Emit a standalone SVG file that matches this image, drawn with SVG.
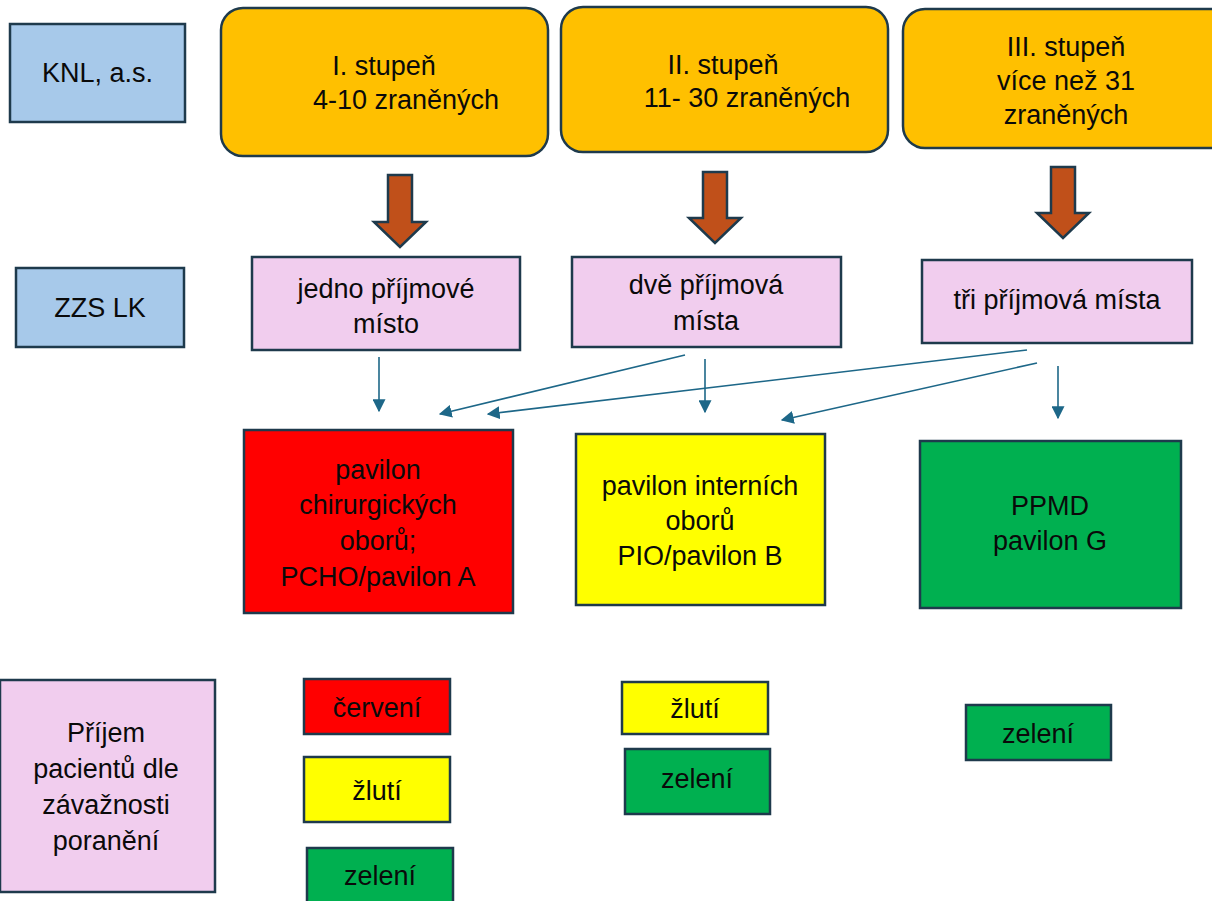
<svg xmlns="http://www.w3.org/2000/svg" width="1212" height="901" viewBox="0 0 1212 901">
<defs>
<style>
.b{stroke:#1e3a4c;stroke-width:2.5}
.blue{fill:#a7c9ea}
.org{fill:#ffc000}
.pink{fill:#f1cdee}
.red{fill:#ff0000}
.yel{fill:#ffff00}
.grn{fill:#00b050}
.t{font-family:"Liberation Sans",Arial,sans-serif;font-size:27px;fill:#0a0a0a;text-anchor:middle}
.ba{fill:#c0501a;stroke:#1e3a4c;stroke-width:2.5;stroke-linejoin:miter}
.c{stroke:#1d6788;stroke-width:1.6;fill:none}
</style>
<marker id="ah" viewBox="0 0 10 10" refX="9" refY="5" markerWidth="13" markerHeight="13" markerUnits="userSpaceOnUse" orient="auto">
<path d="M0,0 L10,5 L0,10 z" fill="#1d6788"/>
</marker>
</defs>
<rect width="1212" height="901" fill="#ffffff"/>

<g id="knl"><rect class="b blue" x="10" y="24" width="175" height="98"/><text class="t" x="97.5" y="82">KNL, a.s.</text></g>

<g id="st1"><rect class="b org" x="221" y="8" width="327" height="148" rx="22"/>
<text class="t" x="384" y="75">I. stupeň</text><text class="t" x="406" y="109">4-10 zraněných</text></g>
<g id="st2"><rect class="b org" x="561" y="7" width="327" height="145" rx="22"/>
<text class="t" x="723" y="74">II. stupeň</text><text class="t" x="747" y="107">11- 30 zraněných</text></g>
<g id="st3"><rect class="b org" x="903" y="9" width="330" height="139" rx="22"/>
<text class="t" x="1066" y="56">III. stupeň</text><text class="t" x="1066" y="90">více než 31</text><text class="t" x="1066" y="124">zraněných</text></g>

<g id="arr1"><path class="ba" d="M388,175 H412 V222 H426 L400,247 L374,222 H388 Z"/></g>
<g id="arr2"><path class="ba" d="M703,172 H727 V218 H741 L715,243 L689,218 H703 Z"/></g>
<g id="arr3"><path class="ba" d="M1051,167 H1075 V213 H1089 L1063,238 L1037,213 H1051 Z"/></g>

<g id="zzs"><rect class="b blue" x="16" y="268" width="168" height="79"/><text class="t" x="100" y="317">ZZS LK</text></g>

<g id="p1"><rect class="b pink" x="252" y="257" width="268" height="93"/>
<text class="t" x="386" y="298">jedno příjmové</text><text class="t" x="386" y="333">místo</text></g>
<g id="p2"><rect class="b pink" x="572" y="257" width="269" height="90"/>
<text class="t" x="706" y="294">dvě příjmová</text><text class="t" x="706" y="330">místa</text></g>
<g id="p3"><rect class="b pink" x="922" y="260" width="270" height="83"/>
<text class="t" x="1057" y="309">tři příjmová místa</text></g>

<g id="connectors">
<line class="c" x1="379" y1="357" x2="379" y2="411" marker-end="url(#ah)"/>
<line class="c" x1="685" y1="355" x2="440" y2="414" marker-end="url(#ah)"/>
<line class="c" x1="1027" y1="350" x2="488" y2="414" marker-end="url(#ah)"/>
<line class="c" x1="705" y1="359" x2="705" y2="412" marker-end="url(#ah)"/>
<line class="c" x1="1037" y1="363" x2="782" y2="420" marker-end="url(#ah)"/>
<line class="c" x1="1058" y1="366" x2="1058" y2="418" marker-end="url(#ah)"/>
</g>

<g id="pa"><rect class="b red" x="244" y="430" width="269" height="183"/>
<text class="t" x="378" y="479">pavilon</text><text class="t" x="378" y="514">chirurgických</text><text class="t" x="378" y="550">oborů;</text><text class="t" x="378" y="586">PCHO/pavilon A</text></g>
<g id="pb"><rect class="b yel" x="576" y="434" width="249" height="171"/>
<text class="t" x="700" y="495">pavilon interních</text><text class="t" x="700" y="530">oborů</text><text class="t" x="700" y="565">PIO/pavilon B</text></g>
<g id="pg"><rect class="b grn" x="920" y="441" width="261" height="167"/>
<text class="t" x="1050" y="515">PPMD</text><text class="t" x="1050" y="550">pavilon G</text></g>

<g id="prijem"><rect class="b pink" x="0" y="680" width="215" height="212"/>
<text class="t" x="106" y="742">Příjem</text><text class="t" x="106" y="778">pacientů dle</text><text class="t" x="106" y="814">závažnosti</text><text class="t" x="106" y="850">poranění</text></g>

<g id="l1"><rect class="b red" x="304" y="679" width="146" height="55"/><text class="t" x="377" y="717">červení</text></g>
<g id="l2"><rect class="b yel" x="304" y="757" width="146" height="65"/><text class="t" x="377" y="800">žlutí</text></g>
<g id="l3"><rect class="b grn" x="307" y="848" width="146" height="60"/><text class="t" x="380" y="885">zelení</text></g>

<g id="m1"><rect class="b yel" x="622" y="682" width="146" height="52"/><text class="t" x="695" y="718">žlutí</text></g>
<g id="m2"><rect class="b grn" x="625" y="749" width="145" height="65"/><text class="t" x="697" y="788">zelení</text></g>

<g id="r1"><rect class="b grn" x="966" y="705" width="145" height="55"/><text class="t" x="1038" y="743">zelení</text></g>
</svg>
